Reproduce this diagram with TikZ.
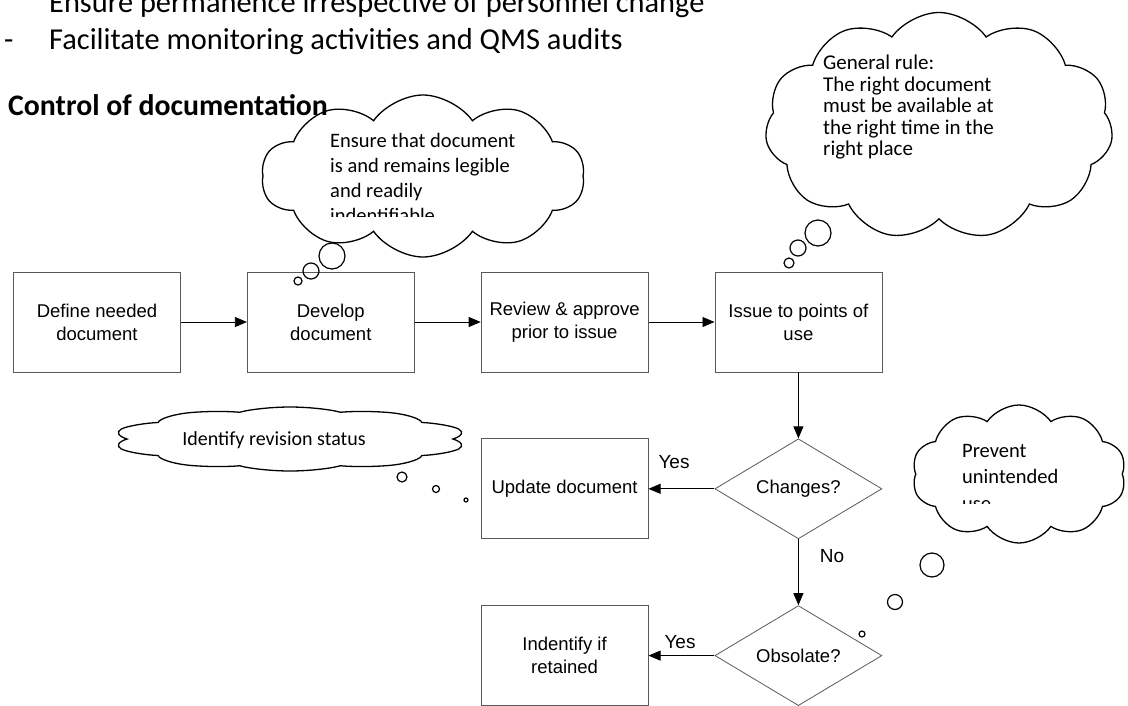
\documentclass[tikz,border=0pt]{standalone}
\usepackage{fontspec}
\setmainfont{Carlito}
\newfontfamily\arialfont{Liberation Sans}
\usetikzlibrary{arrows.meta,positioning,shapes.geometric,shapes.symbols}

\begin{document}
\begin{tikzpicture}[x=1pt,y=-1pt,node distance=66pt,
 box/.style={draw=black!65,line width=0.8pt,minimum width=167pt,minimum height=100pt,align=center,font=\arialfont\fontsize{18.5}{23}\selectfont},
 ask/.style={diamond,aspect=1.67,draw=black!65,line width=0.8pt,minimum width=167pt,minimum height=100pt,inner sep=0pt,font=\arialfont\fontsize{18.5}{23}\selectfont},
 lbl/.style={font=\arialfont\fontsize{19}{23}\selectfont,inner sep=0pt},
 puff/.style={cloud,cloud puffs=10,cloud puff arc=110,cloud ignores aspect,draw,line width=1.3pt},
 bub/.style={draw,line width=1.2pt},
 note/.style={anchor=north west,align=left,inner sep=0pt,font=\fontsize{20.5}{25}\selectfont},
 body/.style={anchor=base west,inner sep=0pt,font=\fontsize{30.4}{37}\selectfont},
 >={Triangle[length=12pt,width=10pt]}]
\useasboundingbox (0,0) rectangle (1128,705);

% text above the chart
\node[body] (l1) at (49,12) {Ensure permanence irrespective of personnel change};
\node[body] (dash) at (4,49) {-};
\node[body] (l2) at (49,49) {Facilitate monitoring activities and QMS audits};
\node[body,font=\bfseries\fontsize{29.8}{36}\selectfont] (title) at (8,115) {Control of documentation};

% flow
\node[box] (a) at (97,322) {Define needed\\document};
\node[box,right=of a] (b) {Develop\\document};
\node[box,right=of b] (c) {Review \& approve\\prior to issue};
\node[box,right=of c] (d) {Issue to points of\\use};
\node[ask,below=of d] (e) {Changes?};
\node[box,left=of e] (f) {Update document};
\node[ask,below=of e] (g) {Obsolate?};
\node[box,left=of g] (h) {Indentify if\\retained};
\draw[->,line width=0.8pt](a)--(b);\draw[->,line width=0.8pt](b)--(c);\draw[->,line width=0.8pt](c)--(d);
\draw[->,line width=0.8pt](d)--(e);\draw[->,line width=0.8pt](e)--(f);\draw[->,line width=0.8pt](e)--(g);\draw[->,line width=0.8pt](g)--(h);
\node[lbl] (y1) at (674,462) {Yes};
\node[lbl] (n1) at (832,556) {No};
\node[lbl] (y2) at (680,642) {Yes};

% clouds
\node[puff,minimum width=323pt,minimum height=162pt] (k1) at (423,176) {};
\begin{scope}
\clip (320,120) rectangle (590,216);
\node[note] (t1) at (330,133) {Ensure that document\\is and remains legible\\and readily\\indentifiable};
\end{scope}
\draw[bub] (332,256) circle (13);
\draw[bub] (311,271) circle (8);
\draw[bub] (298,281) circle (4);

\node[puff,cloud puffs=11,minimum width=348pt,minimum height=227pt] (k2) at (939,126) {};
\node[note,font=\fontsize{21}{21.5}\selectfont] (t2) at (823,55) {General rule:\\The right document\\must be available at\\the right time in the\\right place};
\draw[bub] (818,233) circle (13);
\draw[bub] (798,248) circle (8);
\draw[bub] (789,263) circle (5);

\node[puff,minimum width=71pt,minimum height=64pt,xscale=5,transform shape] (k3) at (290,439) {};
\node[font=\fontsize{20}{24}\selectfont] (t3) at (274,440) {Identify revision status};
\draw[bub] (402,477) circle (5);
\draw[bub] (436,489) circle (3.5);
\draw[bub] (466,500) circle (2);

\node[puff,minimum width=214pt,minimum height=138pt] (k4) at (1019,474) {};
\begin{scope}
\clip (950,430) rectangle (1100,503);
\node[note,font=\fontsize{20.5}{26.5}\selectfont] (t4) at (962,444) {Prevent\\unintended\\use};
\end{scope}
\draw[bub] (932,565) circle (12);
\draw[bub] (895,602) circle (7.5);
\draw[bub] (862,634) circle (3);
\end{tikzpicture}
\end{document}
